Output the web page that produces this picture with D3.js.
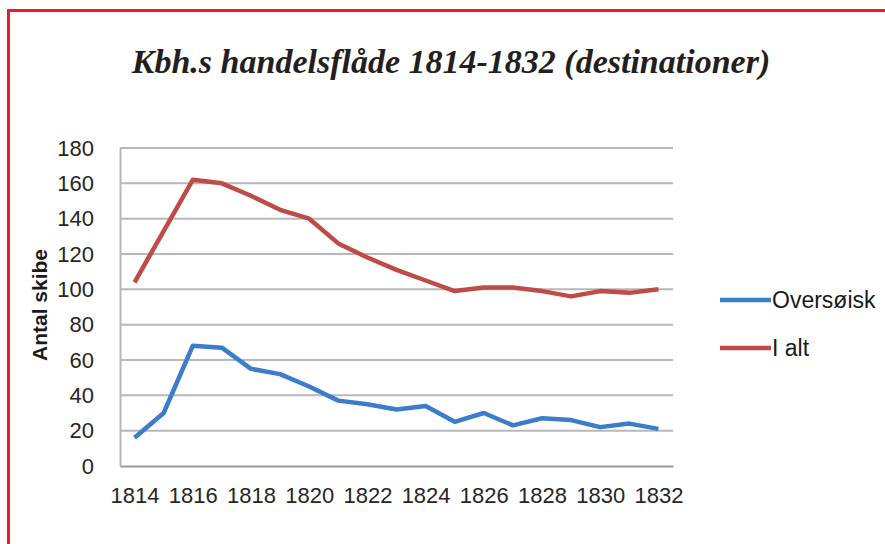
<!DOCTYPE html>
<html>
<head>
<meta charset="utf-8">
<script src="https://cdn.jsdelivr.net/npm/d3@7"></script>
<style>
  body { margin: 0; background: #fff; }
  svg { display: block; }
</style>
</head>
<body>
<svg></svg>
<script>
let years = d3.range(1814, 1833)
let oversoisk = [16, 30, 68, 67, 55, 52, 45, 37, 35, 32, 34, 25, 30, 23, 27, 26, 22, 24, 21]
let iAlt = [104, 133, 162, 160, 153, 145, 140, 126, 118, 111, 105, 99, 101, 101, 99, 96, 99, 98, 100]
let yTicks = [0, 20, 40, 60, 80, 100, 120, 140, 160, 180]
let xTicks = [1814, 1816, 1818, 1820, 1822, 1824, 1826, 1828, 1830, 1832]
let seriesNames = ['Oversøisk', 'I alt']

let width = 885
let height = 544
let plotLeft = 120, plotRight = 673, plotTop = 148, plotBottom = 466

let colors = ['#3b7dc9', '#be4b48']
let font = '"Liberation Sans", Arial, sans-serif'

let svg = d3.select('svg').attr('width', width).attr('height', height)

// red frame (left + top only)
svg.append('path')
   .attr('d', 'M8.5,' + height + ' V10.5 H' + width)
   .attr('fill', 'none')
   .attr('stroke', '#e0202b')
   .attr('stroke-width', 3)

svg.append('text')
   .attr('x', 451)
   .attr('y', 73)
   .attr('text-anchor', 'middle')
   .style('font-family', '"Liberation Serif", "DejaVu Serif", serif')
   .style('font-style', 'italic')
   .style('font-weight', 'bold')
   .style('font-size', '34px')
   .attr('fill', '#231f20')
   .text('Kbh.s handelsflåde 1814-1832 (destinationer)')

let xScale = d3.scalePoint()
               .domain(years)
               .range([plotLeft, plotRight])
               .padding(0.5)
let yScale = d3.scaleLinear()
               .domain([0, 180])
               .range([plotBottom, plotTop])

// gridlines
svg.append('g')
   .selectAll('line')
   .data(yTicks.filter(d => d > 0))
   .enter()
   .append('line')
   .attr('x1', plotLeft)
   .attr('x2', plotRight)
   .attr('y1', d => yScale(d))
   .attr('y2', d => yScale(d))
   .attr('stroke', '#b8b8b8')
   .attr('stroke-width', 2)

let yAxis = d3.axisLeft(yScale).tickValues(yTicks).tickSize(0).tickPadding(26)
let gy = svg.append('g')
            .attr('transform', 'translate(' + plotLeft + ',0)')
            .call(yAxis)
gy.select('.domain').attr('stroke', '#b8b8b8').attr('stroke-width', 2)
gy.selectAll('text').style('font-family', font).style('font-size', '22px').attr('fill', '#262626')

let xAxis = d3.axisBottom(xScale).tickValues(xTicks).tickSize(0).tickPadding(21)
let gx = svg.append('g')
            .attr('transform', 'translate(0,' + plotBottom + ')')
            .call(xAxis)
gx.select('.domain').attr('stroke', '#9a9a9a').attr('stroke-width', 2)
gx.selectAll('text').style('font-family', font).style('font-size', '22px').attr('fill', '#262626')

svg.append('text')
   .attr('transform', 'translate(47,' + 305 + ') rotate(-90)')
   .attr('text-anchor', 'middle')
   .style('font-family', font)
   .style('font-weight', 'bold')
   .style('font-size', '21px')
   .attr('fill', '#1a1a1a')
   .text('Antal skibe')

let line = d3.line()
             .x((d, i) => xScale(years[i]))
             .y(d => yScale(d))

;[oversoisk, iAlt].forEach((vals, k) => {
    svg.append('path')
       .datum(vals)
       .attr('d', line)
       .attr('fill', 'none')
       .attr('stroke', colors[k])
       .attr('stroke-width', 4.5)
       .attr('stroke-linejoin', 'round')
})

// legend
let legend = svg.append('g')
seriesNames.forEach((name, k) => {
    let ly = 300 + k * 48
    legend.append('line')
          .attr('x1', 720).attr('x2', 771)
          .attr('y1', ly).attr('y2', ly)
          .attr('stroke', colors[k])
          .attr('stroke-width', 4.5)
    legend.append('text')
          .attr('x', 772)
          .attr('y', ly + 8)
          .style('font-family', font)
          .style('font-size', '23px')
          .attr('fill', '#1a1a1a')
          .text(name)
})
</script>
</body>
</html>
